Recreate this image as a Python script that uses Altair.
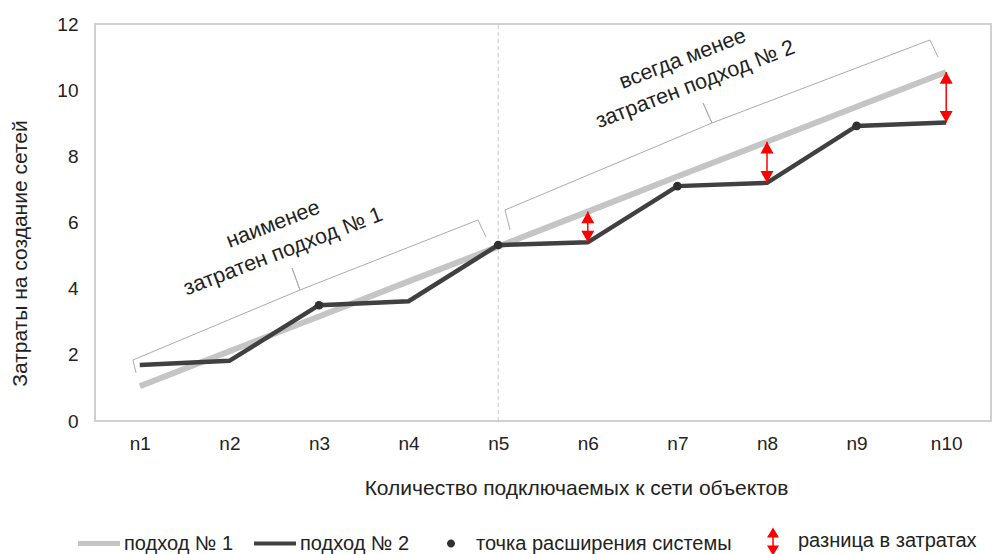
import altair as alt
import pandas as pd

# ---- data -------------------------------------------------------------
cats = ["n1", "n2", "n3", "n4", "n5", "n6", "n7", "n8", "n9", "n10"]
approach1 = [1.05, 2.11, 3.16, 4.22, 5.27, 6.33, 7.39, 8.44, 9.50, 10.55]
approach2 = [1.69, 1.82, 3.50, 3.62, 5.32, 5.40, 7.10, 7.20, 8.92, 9.02]
expansion_points = ["n3", "n5", "n7", "n9"]
gap_points = ["n6", "n8", "n10"]
divider = "n5"

y_ticks = [0, 2, 4, 6, 8, 10, 12]

legend_labels = ["подход № 1", "подход № 2",
                 "точка расширения системы", "разница в затратах"]

# curly braces, in axis units (x = object index, y = cost)
brace1_x = [0.958, 0.924, 2.788, 2.699, 2.788, 4.775, 4.864]
brace1_y = [1.451, 1.844, 3.960, 4.625, 3.960, 6.076, 5.562]
brace2_x = [5.132, 5.076, 7.386, 7.286, 7.386, 9.819, 9.908]
brace2_y = [5.774, 6.378, 9.008, 9.613, 9.008, 11.517, 11.004]

notes_text = ["наименее", "затратен подход № 1",
              "всегда менее", "затратен подход № 2"]
notes_x = [2.49, 2.60, 7.06, 7.20]
notes_y = [5.93, 5.11, 10.93, 10.16]

# ---- styling ----------------------------------------------------------
FONT = "Liberation Sans"
TXT = "#222222"
GRAY = "#c5c5c5"
DARK = "#404040"
RED = "#ff0000"

ARROW_UP = "M0,0L1,1.8L-1,1.8Z"
ARROW_DOWN = "M0,0L1,-1.8L-1,-1.8Z"
LEG_LINE1 = "M-1,-0.12H1V0.12H-1Z"
LEG_LINE2 = "M-1,-0.1H1V0.1H-1Z"
LEG_DOT = "M-0.19,0A0.19,0.19,0,1,0,0.19,0A0.19,0.19,0,1,0,-0.19,0Z"
LEG_ARROW = ("M0,-0.667L0.286,-0.19L0.036,-0.19L0.036,0.19L0.286,0.19L0,0.667"
             "L-0.286,0.19L-0.036,0.19L-0.036,-0.19L-0.286,-0.19Z")

# ---- tables -----------------------------------------------------------
idx = {c: i + 1 for i, c in enumerate(cats)}
df = pd.DataFrame({"cat": cats, "idx": [idx[c] for c in cats],
                   "a1": approach1, "a2": approach2})
pts = df[df["cat"].isin(expansion_points)]
gaps = df[df["cat"].isin(gap_points)]
div = pd.DataFrame({"idx": [idx[divider]], "lo": [y_ticks[0]], "hi": [y_ticks[-1]]})

braces = pd.DataFrame({
    "brace": ["b1"] * len(brace1_x) + ["b2"] * len(brace2_x),
    "k": list(range(len(brace1_x))) + list(range(len(brace2_x))),
    "bx": brace1_x + brace2_x,
    "by": brace1_y + brace2_y,
})
notes = pd.DataFrame({"t": notes_text, "nx": notes_x, "ny": notes_y})
leg = pd.DataFrame({"label": legend_labels})

label_js = "[" + ",".join(f"'{c}'" for c in cats) + "]"

x_scale = alt.Scale(domain=[0.5, len(cats) + 0.5], nice=False, zero=False)
y_scale = alt.Scale(domain=[y_ticks[0], y_ticks[-1]], nice=False)

X = alt.X("idx:Q", scale=x_scale,
          axis=alt.Axis(values=list(range(1, len(cats) + 1)),
                        labelExpr=f"{label_js}[datum.value - 1]",
                        title="Количество подключаемых к сети объектов",
                        grid=False, ticks=False, domain=False,
                        labelPadding=13, titlePadding=24, titleX=481))
Y = alt.Y("a1:Q", scale=y_scale,
          axis=alt.Axis(values=y_ticks, title="Затраты на создание сетей",
                        grid=False, ticks=False, domain=False,
                        labelPadding=17, titlePadding=26, titleY=229))

bx = alt.X("bx:Q", scale=x_scale)
by = alt.Y("by:Q", scale=y_scale)

brace_layer = alt.Chart(braces).mark_line(color="#ababab", strokeWidth=1).encode(
    x=bx, y=by, detail="brace:N", order=alt.Order("k:Q"))

divider_layer = alt.Chart(div).mark_rule(
    color="#c8c8c8", strokeWidth=1, strokeDash=[4, 3]).encode(
    x=alt.X("idx:Q", scale=x_scale), y=alt.Y("lo:Q", scale=y_scale), y2="hi:Q")

line1 = alt.Chart(df).mark_line(color=GRAY, strokeWidth=6).encode(x=X, y=Y)
line2 = alt.Chart(df).mark_line(color=DARK, strokeWidth=4.5).encode(
    x=alt.X("idx:Q", scale=x_scale), y=alt.Y("a2:Q", scale=y_scale))

points = alt.Chart(pts).mark_circle(color="#303030", size=75, opacity=1).encode(
    x=alt.X("idx:Q", scale=x_scale), y=alt.Y("a2:Q", scale=y_scale))

gap_rules = alt.Chart(gaps).mark_rule(color=RED, strokeWidth=1.5).encode(
    x=alt.X("idx:Q", scale=x_scale), y=alt.Y("a2:Q", scale=y_scale), y2="a1:Q")
heads_up = alt.Chart(gaps).mark_point(
    shape=ARROW_UP, filled=True, color=RED, size=169, opacity=1, strokeWidth=0).encode(
    x=alt.X("idx:Q", scale=x_scale), y=alt.Y("a1:Q", scale=y_scale))
heads_down = alt.Chart(gaps).mark_point(
    shape=ARROW_DOWN, filled=True, color=RED, size=169, opacity=1, strokeWidth=0).encode(
    x=alt.X("idx:Q", scale=x_scale), y=alt.Y("a2:Q", scale=y_scale))

note_layer = alt.Chart(notes).mark_text(
    font=FONT, fontSize=21.5, color=TXT, angle=339, align="center", baseline="middle").encode(
    x=alt.X("nx:Q", scale=x_scale), y=alt.Y("ny:Q", scale=y_scale), text="t:N")

legend_def = alt.Legend(
    title=None, orient="none", legendX=-17, legendY=496, direction="horizontal",
    symbolSize=1764, symbolStrokeWidth=0, symbolOpacity=1,
    labelFont=FONT, labelFontSize=20, labelColor=TXT, labelLimit=400,
    labelOffset=4, columnPadding=20, padding=0)

legend_layer = alt.Chart(leg).mark_point(filled=True, opacity=0).encode(
    color=alt.Color("label:N", legend=legend_def,
                    scale=alt.Scale(domain=legend_labels, range=[GRAY, DARK, "#303030", RED])),
    shape=alt.Shape("label:N", legend=legend_def,
                    scale=alt.Scale(domain=legend_labels,
                                    range=[LEG_LINE1, LEG_LINE2, LEG_DOT, LEG_ARROW])),
)

chart = alt.layer(
    brace_layer, divider_layer, line1, line2, points,
    gap_rules, heads_up, heads_down, note_layer, legend_layer,
).properties(
    width=896, height=397,
    autosize=alt.AutoSizeParams(type="none"),
    padding={"left": 95, "top": 24, "right": 3, "bottom": 133},
    background="white",
).configure_view(
    stroke="#d0d0d0", strokeWidth=2,
).configure_axis(
    labelFont=FONT, titleFont=FONT, labelFontSize=19, titleFontSize=21,
    labelColor=TXT, titleColor=TXT, titleFontWeight="normal",
)

chart.save("out.html", embed_options={"renderer": "svg", "actions": False})
